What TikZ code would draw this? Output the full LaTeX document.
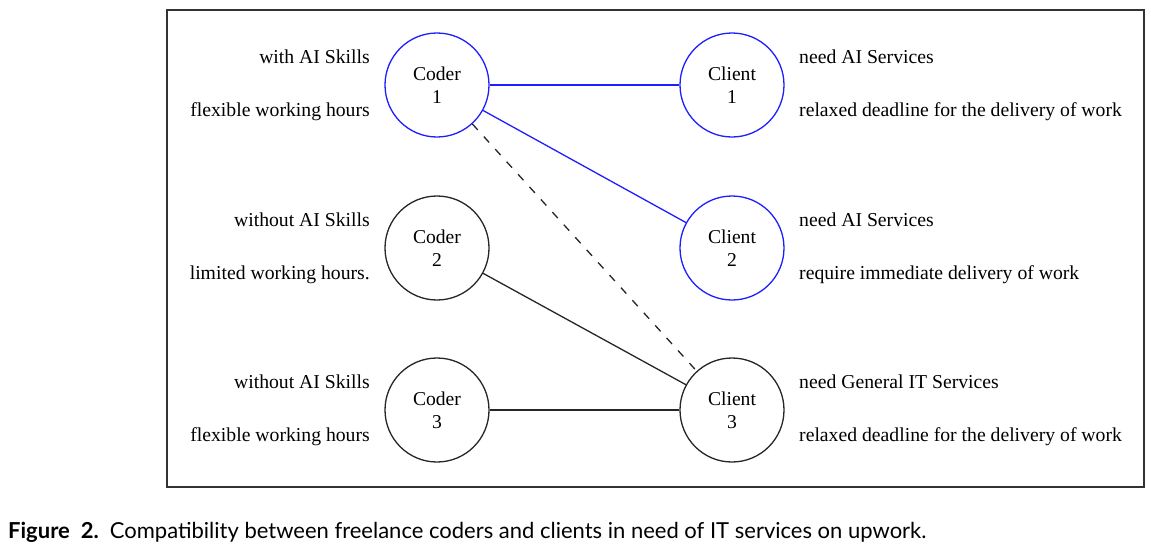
\documentclass[tikz,border=0pt]{standalone}
\usepackage{fontspec}
\setmainfont{Liberation Serif}
\newfontfamily\capfont{Lato}
\begin{document}
\begin{tikzpicture}[x=1pt,y=-1pt,
  agent/.style={circle,draw,line width=1.3pt,minimum size=104pt,inner sep=0pt,align=center,font=\fontsize{19.6}{23}\selectfont},
  bluenode/.style={agent,draw={rgb,255:red,30;green,30;blue,255}},
  blacknode/.style={agent,draw=black!85},
  lbl/.style={inner sep=0pt,font=\fontsize{19.7}{22}\selectfont},
  lleft/.style={lbl,anchor=east},
  lright/.style={lbl,anchor=west},
  blueline/.style={draw={rgb,255:red,30;green,30;blue,255},line width=1.3pt},
  blackline/.style={draw=black!85,line width=1.3pt},
  dashline/.style={draw=black!85,line width=1.3pt,dash pattern=on 8pt off 9pt}
]
\useasboundingbox (0,0) rectangle (1151,550);
\node[draw=black!80,line width=1.5pt,minimum width=977pt,minimum height=477pt,inner sep=0pt,anchor=north west] (frame) at (166,9) {};

\node[bluenode] (c1) at (437,85) {Coder\\1};
\node[blacknode] (c2) at (437,248) {Coder\\2};
\node[blacknode] (c3) at (437,410) {Coder\\3};
\node[bluenode] (k1) at (732,85) {Client\\1};
\node[bluenode] (k2) at (732,248) {Client\\2};
\node[blacknode] (k3) at (732,410) {Client\\3};

\node[lleft] (a1) at (370,57) {with AI Skills};
\node[lleft] (b1) at (370,112) {flexible working hours};
\node[lleft] (a2) at (370,220) {without AI Skills};
\node[lleft] (b2) at (370,275) {limited working hours.};
\node[lleft] (a3) at (370,382) {without AI Skills};
\node[lleft] (b3) at (370,437) {flexible working hours};

\node[lright] (r1) at (799,57) {need AI Services};
\node[lright] (s1) at (799,112) {relaxed deadline for the delivery of work};
\node[lright] (r2) at (799,220) {need AI Services};
\node[lright] (s2) at (799,275) {require immediate delivery of work};
\node[lright] (r3) at (799,382) {need General IT Services};
\node[lright] (s3) at (799,437) {relaxed deadline for the delivery of work};

\draw[blueline] (c1) -- (k1);
\draw[blueline] (c1) -- (k2);
\draw[dashline] (c1) -- (k3);
\draw[blackline] (c2) -- (k3);
\draw[blackline] (c3) -- (k3);

\node[anchor=west,inner sep=0pt,font=\capfont\fontsize{22}{24}\selectfont] (cap) at (8,532) {\textbf{Figure\enspace 2.}\enspace Compatibility between freelance coders and clients in need of IT services on upwork.};
\end{tikzpicture}
\end{document}
